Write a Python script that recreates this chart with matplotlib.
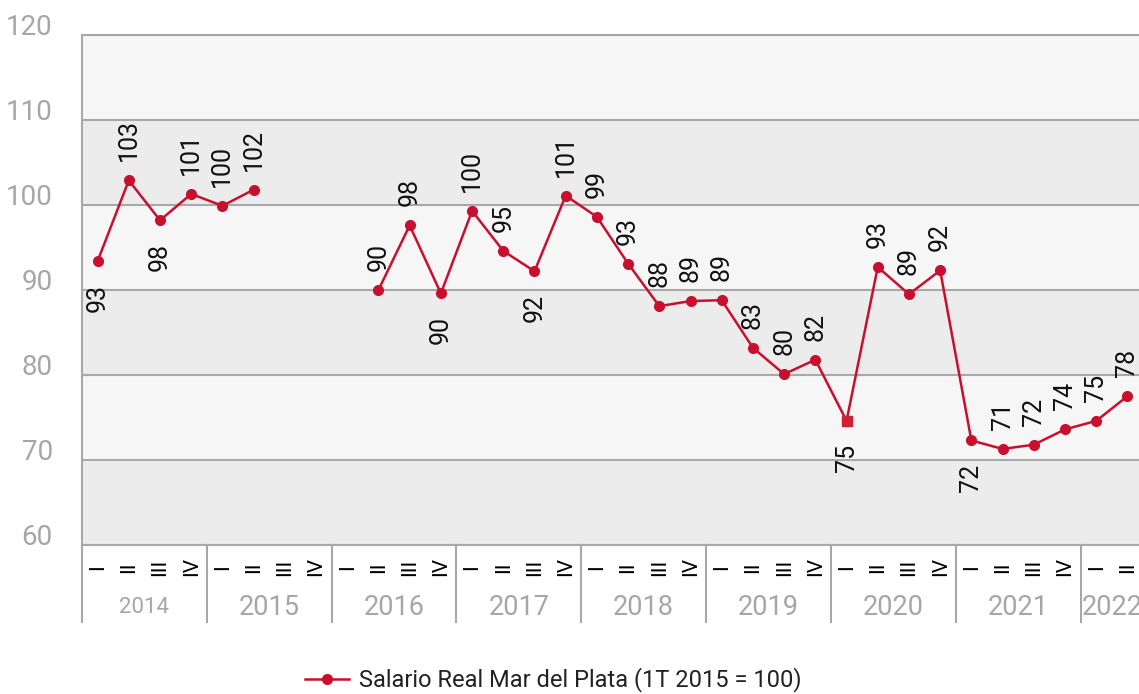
import numpy as np
import matplotlib
matplotlib.use("Agg")
import matplotlib.pyplot as plt

plt.rcParams["font.family"] = ["Roboto", "DejaVu Sans"]

# =========================================================
# DATA (1T 2015 = 100)
# =========================================================
years = ["2014", "2015", "2016", "2017", "2018", "2019", "2020", "2021", "2022"]
quarters = ["I", "II", "III", "IV"] * 8 + ["I", "II"]

salario = [
    93.4, 102.9, 98.2, 101.3,      # 2014
    99.9, 101.8, np.nan, np.nan,   # 2015
    np.nan, 90.0, 97.6, 89.6,      # 2016
    99.3, 94.6, 92.2, 101.1,       # 2017
    98.6, 93.1, 88.1, 88.7,        # 2018
    88.8, 83.2, 80.1, 81.8,        # 2019
    74.6, 92.7, 89.5, 92.3,        # 2020
    72.3, 71.3, 71.8, 73.6,        # 2021
    74.6, 77.5,                    # 2022
]

etiquetas = [
    "93", "103", "98", "101",
    "100", "102", "", "",
    "", "90", "98", "90",
    "100", "95", "92", "101",
    "99", "93", "88", "89",
    "89", "83", "80", "82",
    "75", "93", "89", "92",
    "72", "71", "72", "74",
    "75", "78",
]

# a = label above the point, b = below
lado = [
    "b", "a", "b", "a",
    "a", "a", "", "",
    "", "a", "a", "b",
    "a", "a", "b", "a",
    "a", "a", "a", "a",
    "a", "a", "a", "a",
    "b", "a", "a", "a",
    "b", "a", "a", "a",
    "a", "a",
]

RED = "#c8102e"
GRID = "#a8a8a8"
LIGHT = "#f6f6f6"
DARK = "#ececec"

# =========================================================
# PLOT
# =========================================================
fig = plt.figure(figsize=(11.39, 6.94), dpi=100)
ax = fig.add_axes([82 / 1139, 1 - 545 / 694, 1061 / 1139, 510 / 694])

x = np.arange(len(salario))

# background bands
for i, lo in enumerate(range(60, 120, 10)):
    ax.axhspan(lo, lo + 10, color=DARK if i % 2 == 0 else LIGHT, zorder=0, lw=0)

ax.set_ylim(60, 120)
ax.set_xlim(-0.5, len(salario) - 0.5)
ax.set_yticks(range(60, 121, 10))
ax.yaxis.grid(True, color=GRID, lw=1.5, zorder=1)
ax.set_axisbelow(True)
ax.tick_params(axis="y", length=0, pad=21, labelsize=20, labelcolor="#a6a6a6")
for lbl in ax.get_yticklabels():
    lbl.set_va("baseline")
ax.set_xticks([])

for s in ["top", "left", "bottom"]:
    ax.spines[s].set_color(GRID)
    ax.spines[s].set_linewidth(1.5)
ax.spines["right"].set_visible(False)

# line
ax.plot(x, salario, color=RED, lw=1.8, marker="o", markersize=7,
        label="Salario Real Mar del Plata (1T 2015 = 100)", zorder=3)
# 2020 I is drawn as a square in the original
ax.plot(x[24], salario[24], marker="s", markersize=7, color="#cc2233", ls="none", zorder=4)

# data labels
for xi, v, t, pos in zip(x, salario, etiquetas, lado):
    if not t:
        continue
    if pos == "a":
        ax.annotate(t, (xi, v), xytext=(0, 19), textcoords="offset pixels",
                    rotation=90, ha="center", va="bottom", fontsize=18,
                    color="#111111", annotation_clip=False)
    else:
        ax.annotate(t, (xi, v), xytext=(0, -23), textcoords="offset pixels",
                    rotation=90, ha="center", va="top", fontsize=18,
                    color="#111111", annotation_clip=False)

# category axis: quarters + years
tr = ax.get_xaxis_transform()
for xi, q in zip(x, quarters):
    ax.text(xi, -0.043, q, rotation=90, ha="center", va="center",
            fontsize=15, color="black", transform=tr, clip_on=False)

for k, yr in enumerate(years):
    start = 4 * k - 0.5
    end = min(start + 4, len(salario) - 0.5)
    ax.plot([start, start], [-0.151, 0], color=GRID, lw=1.5, transform=tr, clip_on=False)
    ax.text((start + end) / 2, -0.1216, yr, ha="center", va="center",
            fontsize=16 if yr == "2014" else 19.5, color="#a6a6a6",
            transform=tr, clip_on=False)

leg = ax.legend(loc="center", bbox_to_anchor=(553 / 1139, 1 - 680 / 694),
                bbox_transform=fig.transFigure, frameon=False, fontsize=17,
                handlelength=1.9, handletextpad=0.4)
for t in leg.get_texts():
    t.set_color("#222222")

fig.savefig("out.png", dpi=100)
